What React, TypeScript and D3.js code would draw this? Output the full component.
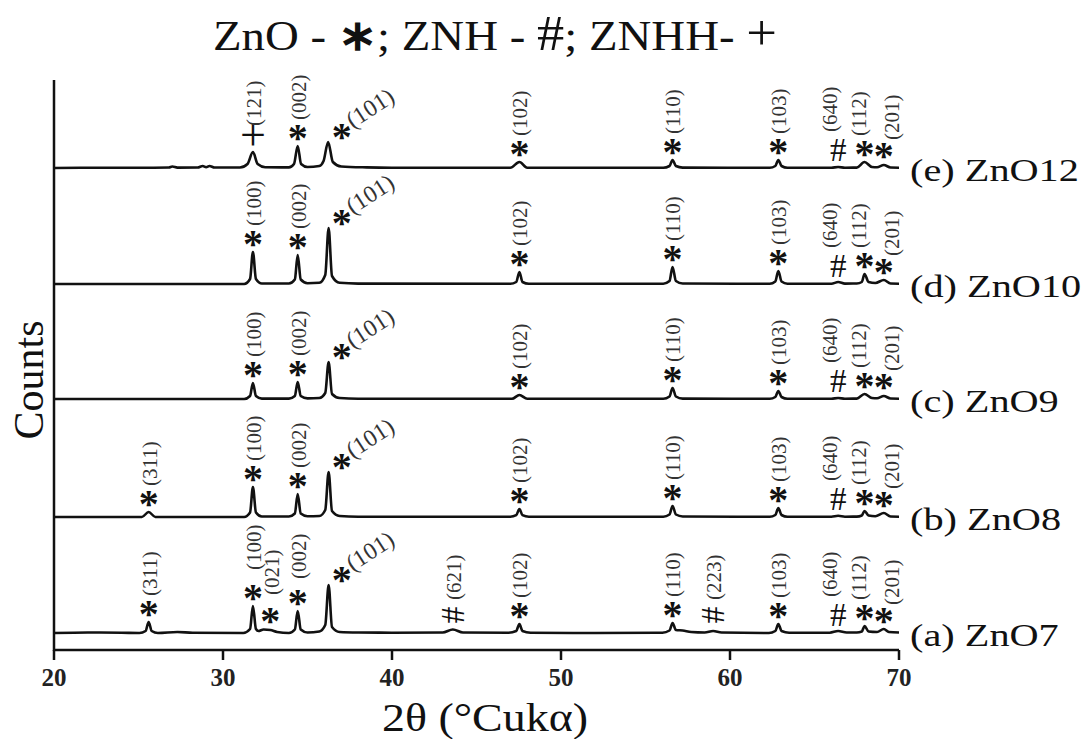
import React from "react";
import * as d3 from "d3";

// ---- chart data -----------------------------------------------------------
const TITLE_PARTS = ["ZnO - ", "\u2217", "; ZNH - ", "#", "; ZNHH- ", "+"];
const X_LABEL = "2\u03b8 (\u00b0Cuk\u03b1)";
const Y_LABEL = "Counts";
const X_TICKS = [20, 30, 40, 50, 60, 70];

const SAMPLE_NAMES = ["(a) ZnO7", "(b) ZnO8", "(c) ZnO9", "(d) ZnO10", "(e) ZnO12"];
// vertical stacking offset of each pattern (counts, a.u.)
const STACK_OFFSETS = [17, 133, 251, 366, 482];

// diffractogram vertices: [2θ, intensity a.u.]
const ZNO7: [number, number][] = [
  [20, 0], [22, 0.5], [24, 0.3], [25.05, 0], [25.42, 2], [25.6, 11], [25.78, 2], [26.15, 0],
  [27.3, 1], [28.2, 0.3], [31.2, 0], [31.6, 4], [31.77, 27], [31.95, 4], [32.1, 2], [32.4, 3.5],
  [32.8, 3], [33.2, 1], [33.9, 0], [34.25, 3.5], [34.42, 22], [34.6, 3.5], [35.0, 0.5], [35.7, 1.5],
  [36.05, 8], [36.25, 48], [36.45, 6], [36.9, 1], [38, 0.5], [40, 0.3], [43.0, 0.5], [43.6, 3.5],
  [44.2, 0.5], [46.9, 0.3], [47.35, 2], [47.54, 9], [47.72, 2], [48.2, 0.3], [52, 0], [56.0, 0.3],
  [56.42, 2.5], [56.6, 10], [56.8, 3], [57.2, 2.5], [57.7, 1], [58.5, 0.5], [59.0, 2], [59.5, 0.5],
  [62.3, 0], [62.68, 2], [62.86, 9], [63.05, 2], [63.5, 0.3], [65.9, 0.3], [66.4, 2], [66.9, 0.5],
  [67.5, 0.5], [67.8, 1.5], [67.96, 7], [68.2, 1.5], [68.7, 1], [69.1, 4], [69.4, 1], [70, 0.5],
];
const ZNO8: [number, number][] = [
  [20, 0], [25.2, 0], [25.6, 5], [26.0, 0], [31.25, 0], [31.6, 4.5], [31.77, 30], [31.95, 4.5],
  [32.3, 0.5], [33.9, 0.5], [34.25, 3.5], [34.42, 23], [34.6, 3.5], [35.0, 0.8], [35.7, 1],
  [36.05, 7], [36.25, 45], [36.45, 6], [36.9, 1], [38, 0.3], [47.0, 0.2], [47.35, 1.8], [47.54, 8],
  [47.72, 1.8], [48.1, 0.2], [56.05, 0.3], [56.42, 2.5], [56.6, 11], [56.8, 2.5], [57.2, 0.5],
  [62.35, 0.2], [62.68, 2], [62.86, 9], [63.05, 2], [63.4, 0.3], [66.0, 0.3], [66.4, 1.2],
  [66.8, 0.3], [67.5, 0.4], [67.8, 1.5], [67.96, 6], [68.2, 1.5], [68.6, 0.8], [69.1, 4],
  [69.5, 0.5], [70, 0.3],
];
const ZNO9: [number, number][] = [
  [20, 0], [31.25, 0], [31.6, 3], [31.77, 16], [31.95, 3], [32.3, 0.4], [33.9, 0.4], [34.25, 3],
  [34.42, 17], [34.6, 3], [35.0, 0.6], [35.7, 1], [36.05, 6], [36.25, 37], [36.45, 5], [36.9, 1],
  [38, 0.3], [47.1, 0.2], [47.54, 4], [48.0, 0.2], [56.05, 0.2], [56.42, 2.5], [56.6, 11],
  [56.8, 2.5], [57.2, 0.4], [62.35, 0.2], [62.68, 2], [62.86, 8], [63.05, 2], [63.4, 0.3],
  [66.0, 0.3], [66.4, 1], [66.8, 0.3], [67.5, 0.4], [67.96, 5], [68.4, 1], [68.7, 0.8], [69.1, 3],
  [69.5, 0.5], [70, 0.3],
];
const ZNO10: [number, number][] = [
  [20, 0], [31.25, 0], [31.6, 5], [31.77, 32], [31.95, 5], [32.3, 0.5], [33.9, 0.5], [34.25, 4.5],
  [34.42, 29], [34.6, 4.5], [35.0, 0.8], [35.7, 1.2], [36.05, 9], [36.25, 56], [36.45, 8],
  [36.9, 1.2], [38, 0.4], [47.0, 0.2], [47.35, 2], [47.54, 12], [47.72, 2], [48.1, 0.2],
  [56.05, 0.3], [56.42, 3], [56.6, 17], [56.8, 3], [57.2, 0.5], [62.35, 0.2], [62.68, 2.5],
  [62.86, 13], [63.05, 2.5], [63.4, 0.3], [66.0, 0.3], [66.4, 2], [66.8, 0.4], [67.5, 0.5],
  [67.8, 2], [67.96, 10], [68.2, 2], [68.6, 1], [69.1, 4], [69.5, 0.5], [70, 0.3],
];
const ZNO12: [number, number][] = [
  [20, 0], [22, 0.3], [25, 0.2], [26.8, 0.5], [27.0, 1.5], [27.3, 0.4], [28.5, 0.5], [28.8, 2],
  [29.0, 0.8], [29.2, 2], [29.5, 0.5], [31.0, 0.5], [31.45, 4], [31.77, 16], [32.05, 4], [32.5, 0.8],
  [33.9, 0.6], [34.2, 4], [34.42, 22], [34.62, 4], [35.0, 1], [35.7, 2], [35.95, 7], [36.22, 26],
  [36.5, 6], [37.0, 1.5], [38.5, 0.6], [40, 0.3], [47.0, 0.3], [47.54, 6], [48.0, 0.3],
  [56.05, 0.3], [56.42, 2], [56.6, 8], [56.8, 2], [57.2, 0.4], [62.35, 0.3], [62.68, 2],
  [62.86, 8], [63.05, 2], [63.4, 0.3], [66.0, 0.3], [66.4, 1], [66.8, 0.3], [67.5, 0.4],
  [67.96, 6], [68.4, 1], [68.7, 0.8], [69.1, 3], [69.5, 0.5], [70, 0.3],
];
const PATTERNS = [ZNO7, ZNO8, ZNO9, ZNO10, ZNO12];

// phase markers: ∗ ZnO, # ZNH, + ZNHH
type Tag = [number, string, string]; // [2θ, symbol, (hkl)]
const TAGS_A: Tag[] = [
  [25.6, "*", "(311)"], [31.77, "*", "(100)"], [32.8, "*", "(021)"], [34.42, "*", "(002)"],
  [36.25, "*", "(101)"], [43.6, "#", "(621)"], [47.54, "*", "(102)"], [56.6, "*", "(110)"],
  [59.0, "#", "(223)"], [62.86, "*", "(103)"], [66.4, "#", "(640)"], [67.96, "*", "(112)"],
  [69.1, "*", "(201)"],
];
const TAGS_B: Tag[] = [
  [25.6, "*", "(311)"], [31.77, "*", "(100)"], [34.42, "*", "(002)"], [36.25, "*", "(101)"],
  [47.54, "*", "(102)"], [56.6, "*", "(110)"], [62.86, "*", "(103)"], [66.4, "#", "(640)"],
  [67.96, "*", "(112)"], [69.1, "*", "(201)"],
];
const TAGS_CD: Tag[] = [
  [31.77, "*", "(100)"], [34.42, "*", "(002)"], [36.25, "*", "(101)"], [47.54, "*", "(102)"],
  [56.6, "*", "(110)"], [62.86, "*", "(103)"], [66.4, "#", "(640)"], [67.96, "*", "(112)"],
  [69.1, "*", "(201)"],
];
const TAGS_E: Tag[] = [
  [31.77, "+", "(121)"], [34.42, "*", "(002)"], [36.25, "*", "(101)"], [47.54, "*", "(102)"],
  [56.6, "*", "(110)"], [62.86, "*", "(103)"], [66.4, "#", "(640)"], [67.96, "*", "(112)"],
  [69.1, "*", "(201)"],
];
const TAGS = [TAGS_A, TAGS_B, TAGS_CD, TAGS_CD, TAGS_E];

// ---- layout ---------------------------------------------------------------
const W = 1086;
const H = 739;
const M = { left: 54, right: 899, top: 80, bottom: 650 };
const SERIF = "Liberation Serif";
const INK = "#111";

// nudges (px) for crowded hkl labels: [dx, lift]
const LABEL_NUDGE: Record<string, [number, number]> = {
  "0:(100)": [0, 10], "0:(002)": [0, 6], "0:(021)": [1, 8],
  "(640)": [-9, 3], "(112)": [-6, 0], "(201)": [7, -2],
};

const x = d3.scaleLinear().domain([20, 70]).range([M.left, M.right]);
const y = d3.scaleLinear().domain([0, 570]).range([M.bottom, M.top]);

function peakTop(series: [number, number][], t: number) {
  return d3.max(series.filter((p) => Math.abs(p[0] - t) < 0.3), (p) => p[1]) ?? 0;
}

function Marker({ sym, cx, cy, rot }: { sym: string; cx: number; cy: number; rot?: boolean }) {
  if (sym === "*")
    return (
      <text x={cx} y={cy + 19} textAnchor="middle" fontFamily={SERIF} fontWeight="bold"
        fontSize={40} fill={INK}>*</text>
    );
  if (sym === "#")
    return (
      <text transform={`translate(${cx},${cy}) rotate(${rot ? -90 : 0})`} y={11}
        textAnchor="middle" fontFamily={SERIF} fontSize={33} fill={INK}>#</text>
    );
  return (
    <text x={cx} y={cy + 12} textAnchor="middle" fontFamily={SERIF} fontSize={46} fill={INK}>+</text>
  );
}

export default function App() {
  const line = d3
    .line<[number, number]>()
    .x((d) => x(d[0]))
    .y((d) => y(d[1]))
    .curve(d3.curveMonotoneX);

  return (
    <svg width={W} height={H} style={{ position: "absolute", left: 0, top: 0, background: "#fff" }}>
      <rect width={W} height={H} fill="#fff" />
      {/* title */}
      <text x={213} y={50} fontFamily={SERIF} fontSize={43} fill={INK} textLength={564}
        lengthAdjust="spacingAndGlyphs">
        {TITLE_PARTS.map((p, k) => (
          <tspan key={k} fontSize={p === "#" || p === "+" ? 50 : 43}
            fontWeight={p === "\u2217" ? "bold" : "normal"}>{p}</tspan>
        ))}
      </text>

      {/* axes */}
      <line x1={M.left} x2={M.left} y1={M.top} y2={M.bottom + 1} stroke={INK} strokeWidth={2.5} />
      <line x1={M.left} x2={M.right} y1={M.bottom} y2={M.bottom} stroke={INK} strokeWidth={2.5} />
      {X_TICKS.map((t) => (
        <g key={t}>
          <line x1={x(t)} x2={x(t)} y1={M.bottom} y2={M.bottom + 10} stroke={INK} strokeWidth={2.5} />
          <text x={x(t)} y={686} textAnchor="middle" fontFamily={SERIF} fontWeight="bold"
            fontSize={25} fill="#222">{t}</text>
        </g>
      ))}
      <text x={485} y={731} textAnchor="middle" fontFamily={SERIF} fontSize={40} fill={INK}
        textLength={206} lengthAdjust="spacingAndGlyphs">{X_LABEL}</text>
      <text transform="translate(43,380) rotate(-90)" textAnchor="middle" fontFamily={SERIF}
        fontSize={42} fill={INK}>{Y_LABEL}</text>

      {/* stacked patterns */}
      {PATTERNS.map((series, i) => {
        const off = STACK_OFFSETS[i];
        const shifted = series.map((p) => [p[0], p[1] + off] as [number, number]);
        const base = y(off);
        return (
          <g key={i}>
            <path d={line(shifted) ?? ""} fill="none" stroke={INK} strokeWidth={2.6}
              strokeLinejoin="round" />
            <text transform={`translate(910,${base + 13}) scale(1.3,1)`} fontFamily={SERIF}
              fontSize={31} fill={INK}>{SAMPLE_NAMES[i]}</text>
            {TAGS[i].map(([t, sym, hkl]) => {
              const top = peakTop(series, t);
              const px = x(t);
              const [ndx, lift] = LABEL_NUDGE[`${i}:${hkl}`] ?? LABEL_NUDGE[hkl] ?? [0, 0];
              if (hkl === "(101)") {
                const my = y(off + top) - 11;
                const mx = px + 13;
                return (
                  <g key={hkl}>
                    <Marker sym={sym} cx={mx} cy={my} />
                    <text transform={`translate(${mx + 11},${my - 2}) rotate(-33)`} fontFamily={SERIF}
                      fontSize={24} fill="#333">{hkl}</text>
                  </g>
                );
              }
              const my = base - Math.max(y(0) - y(top) + 14, 18);
              const gap = sym === "#" ? 15 : 12;
              const rot = hkl === "(621)" || hkl === "(223)";
              return (
                <g key={hkl}>
                  <Marker sym={sym} cx={px} cy={my} rot={rot} />
                  <text transform={`translate(${px + 1 + ndx},${my - gap - lift}) rotate(-90)`}
                    dy="0.33em" fontFamily={SERIF} fontSize={21} fill="#333">{hkl}</text>
                </g>
              );
            })}
          </g>
        );
      })}
    </svg>
  );
}
